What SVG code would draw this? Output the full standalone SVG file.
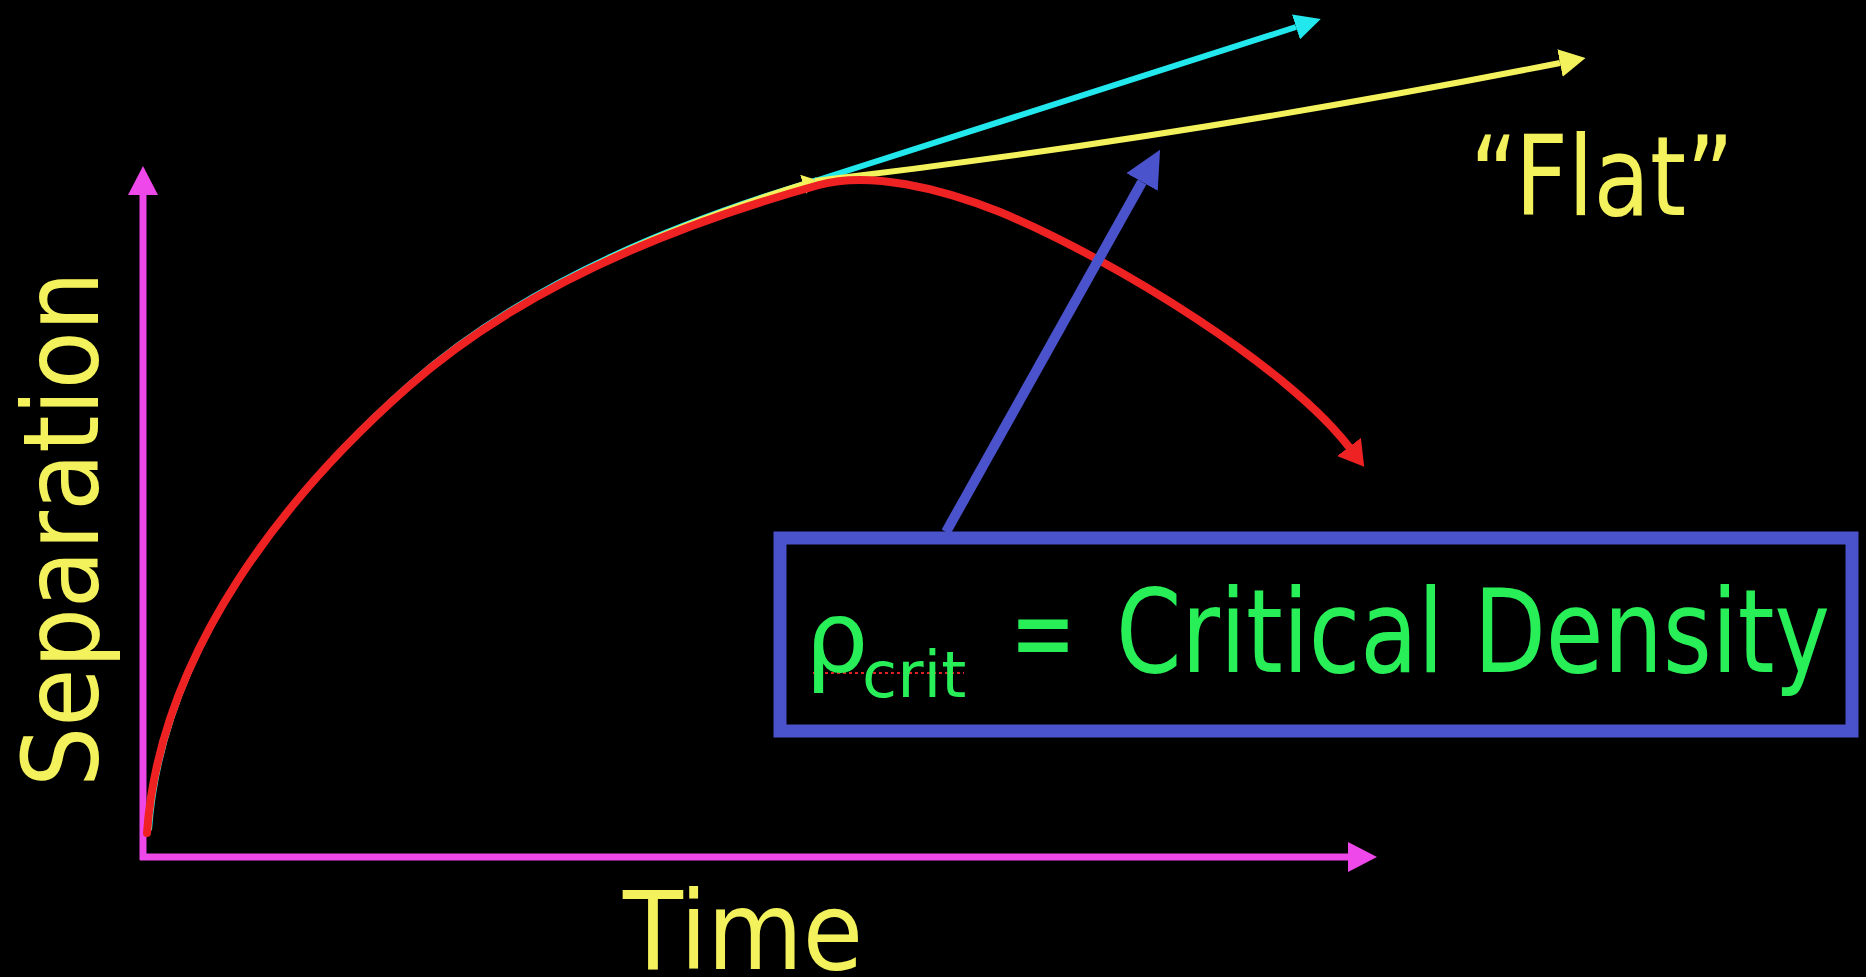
<svg xmlns="http://www.w3.org/2000/svg" width="1866" height="977" viewBox="0 0 1866 977">
  <style>
    .lbl { font-family: "DejaVu Sans", "Liberation Sans", sans-serif; fill: #f4f25c; }
    .grn { font-family: "DejaVu Sans", "Liberation Sans", sans-serif; fill: #28ee58; }
    .axis { stroke: #ee48ea; stroke-width: 7; fill: none; }
    .red { stroke: #ee2222; stroke-width: 8; fill: none; stroke-linecap: round; }
    .cyan { stroke: #22e8ee; stroke-width: 6; fill: none; }
    .yel { stroke: #f4f25c; stroke-width: 6; fill: none; }
    .blue { stroke: #4a52cc; stroke-width: 10; fill: none; }
  </style>
  <defs>
    <marker id="mAxis" markerUnits="userSpaceOnUse" markerWidth="30" markerHeight="30" refX="0" refY="15" orient="auto" viewBox="0 0 30 30">
      <path d="M0,0 L29,15 L0,30 Z" fill="#ee48ea"/>
    </marker>
    <marker id="mRed" markerUnits="userSpaceOnUse" markerWidth="26" markerHeight="30" refX="0" refY="15" orient="auto" viewBox="0 0 26 30">
      <path d="M0,0 L25,15 L0,30 Z" fill="#ee2222"/>
    </marker>
    <marker id="mCyan" markerUnits="userSpaceOnUse" markerWidth="26" markerHeight="26" refX="0" refY="13" orient="auto" viewBox="0 0 26 26">
      <path d="M0,0 L26,13 L0,26 Z" fill="#22e8ee"/>
    </marker>
    <marker id="mYel" markerUnits="userSpaceOnUse" markerWidth="26" markerHeight="28" refX="0" refY="14" orient="auto" viewBox="0 0 26 28">
      <path d="M0,0 L26,14 L0,28 Z" fill="#f4f25c"/>
    </marker>
    <marker id="mYelS" markerUnits="userSpaceOnUse" markerWidth="14" markerHeight="20" refX="4" refY="10" orient="auto" viewBox="0 0 14 20">
      <path d="M0,0 L14,10 L0,20 Z" fill="#f4f25c"/>
    </marker>
    <marker id="mBlue" markerUnits="userSpaceOnUse" markerWidth="37" markerHeight="36" refX="0" refY="18" orient="auto" viewBox="0 0 37 36">
      <path d="M0,0 L37,18 L0,36 Z" fill="#4a52cc"/>
    </marker>
  </defs>
  <rect x="0" y="0" width="1866" height="977" fill="#000"/>

  <g id="axes">
    <line class="axis" x1="143" y1="860" x2="143" y2="195" marker-end="url(#mAxis)"/>
    <line class="axis" x1="140" y1="857" x2="1348" y2="857" marker-end="url(#mAxis)"/>
  </g>

  <g id="axis-labels">
    <text class="lbl" font-size="105" transform="translate(98,787) rotate(-90)" x="0" y="0" textLength="516" lengthAdjust="spacingAndGlyphs">Separation</text>
    <text class="lbl" font-size="108" x="623" y="969" textLength="240" lengthAdjust="spacingAndGlyphs">Time</text>
  </g>

  <g id="flat-label">
    <text class="lbl" font-size="110" x="1470" y="215" textLength="264" lengthAdjust="spacingAndGlyphs">“Flat”</text>
  </g>

  <g id="connectors">
    <path class="cyan" transform="translate(2,-3)" d="M147,833 C160,650 288,493 408,387 C528,281 689,221 815,183"/>
    <path class="yel" stroke-width="4" transform="translate(1,-1)" d="M147,833 C160,650 288,493 408,387 C528,281 689,221 806,184" marker-end="url(#mYelS)"/>
    <path class="cyan" d="M815,181 L1296,27" marker-end="url(#mCyan)"/>
    <path class="yel" d="M815,181 Q1180,138 1560,63" marker-end="url(#mYel)"/>
    <path class="red" d="M147,833 C160,650 288,493 408,387 C528,281 689,221 819,185 C869,171 940,188 1000,212 C1120,262 1290,370 1349,447" marker-end="url(#mRed)"/>
    <path class="blue" d="M946,532 L1142,182" marker-end="url(#mBlue)"/>
  </g>

  <g id="critical-density-box">
    <rect x="780" y="538" width="1072" height="193" fill="none" stroke="#4a52cc" stroke-width="13"/>
    <line x1="813" y1="673" x2="964" y2="673" stroke="#dd2222" stroke-width="2" stroke-dasharray="3,3"/>
    <text class="grn"><tspan x="805" y="672" font-size="100">ρ</tspan><tspan x="862" y="697" font-size="64">crit</tspan><tspan x="1010" y="672" font-size="115" textLength="66" lengthAdjust="spacingAndGlyphs">=</tspan><tspan x="1116" y="672" font-size="115" textLength="714" lengthAdjust="spacingAndGlyphs">Critical Density</tspan></text>
  </g>
</svg>
